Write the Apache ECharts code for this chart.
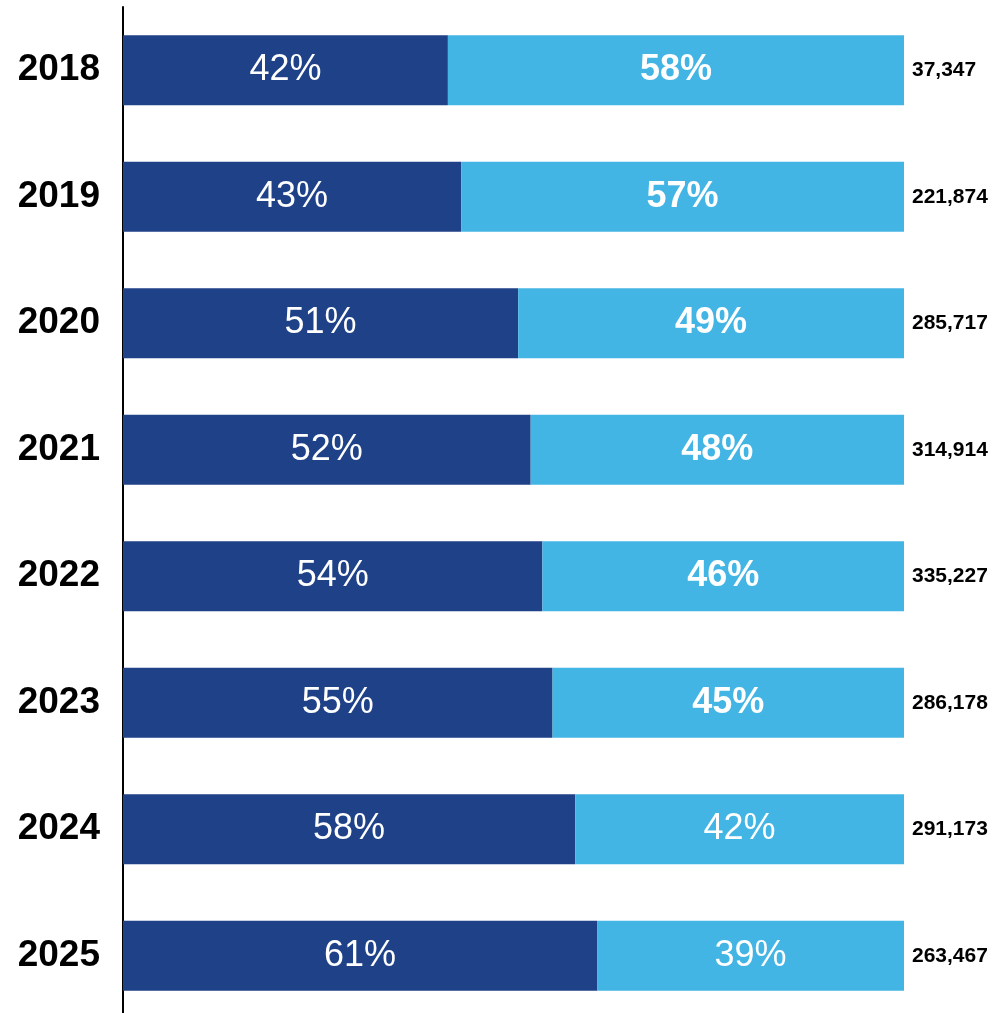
<!DOCTYPE html>
<html>
<head>
<meta charset="utf-8">
<script src="https://cdn.jsdelivr.net/npm/echarts@6/dist/echarts.min.js"></script>
<style>
  html, body { margin: 0; padding: 0; background: #fff; }
  #main { width: 994px; height: 1013px; }
</style>
</head>
<body>
<div id="main"></div>
<script>
var years = ['2018', '2019', '2020', '2021', '2022', '2023', '2024', '2025'];
// bar lengths
var darkShare = [41.6, 43.3, 50.6, 52.2, 53.7, 55.0, 57.9, 60.7];
var lightShare = [58.4, 56.7, 49.4, 47.8, 46.3, 45.0, 42.1, 39.3];
// printed (rounded) percentages
var darkLabels = ['42%', '43%', '51%', '52%', '54%', '55%', '58%', '61%'];
var lightLabels = ['58%', '57%', '49%', '48%', '46%', '45%', '42%', '39%'];
var totals = ['37,347', '221,874', '285,717', '314,914', '335,227', '286,178', '291,173', '263,467'];

var font = 'Liberation Sans, Arial, Helvetica, sans-serif';

// the last two light labels are drawn in regular weight in the original
var lightData = lightShare.map(function (v, i) {
    return { value: v, label: { fontWeight: i < 6 ? 'bold' : 'normal' } };
});

var chartDom = document.getElementById('main');
var myChart = echarts.init(chartDom);

var option = {
    animation: false,
    grid: {
        left: 123,
        width: 781,
        top: 7,
        height: 1012,
        outerBoundsMode: 'none',
        containLabel: false
    },
    xAxis: {
        type: 'value',
        min: 0,
        max: 100,
        show: false
    },
    yAxis: [
        {
            type: 'category',
            inverse: true,
            data: years,
            axisLine: { show: true, lineStyle: { color: '#000', width: 2 } },
            axisTick: { show: false },
            axisLabel: {
                margin: 23,
                color: '#000',
                fontSize: 37,
                fontWeight: 'bold',
                fontFamily: font
            }
        },
        {
            type: 'category',
            inverse: true,
            position: 'right',
            data: totals,
            axisLine: { show: false },
            axisTick: { show: false },
            axisLabel: {
                margin: 8,
                color: '#000',
                fontSize: 21,
                fontWeight: 'bold',
                fontFamily: font
            }
        }
    ],
    series: [
        {
            name: 'dark',
            type: 'bar',
            stack: 'total',
            barWidth: 70,
            itemStyle: { color: '#1E4187' },
            label: {
                show: true,
                position: 'inside',
                color: '#fff',
                fontSize: 36,
                fontFamily: font,
                formatter: function (p) { return darkLabels[p.dataIndex]; }
            },
            data: darkShare
        },
        {
            name: 'light',
            type: 'bar',
            stack: 'total',
            barWidth: 70,
            itemStyle: { color: '#43B5E5' },
            label: {
                show: true,
                position: 'inside',
                color: '#fff',
                fontSize: 36,
                fontFamily: font,
                formatter: function (p) { return lightLabels[p.dataIndex]; }
            },
            data: lightData
        }
    ]
};

myChart.setOption(option);
</script>
</body>
</html>
